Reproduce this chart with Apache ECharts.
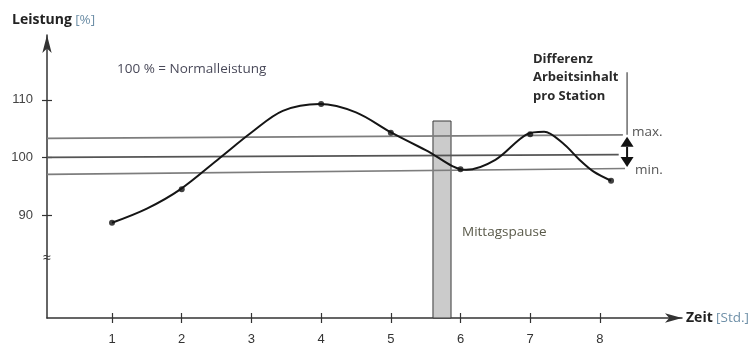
<!DOCTYPE html>
<html><head><meta charset="utf-8">
<script src="https://cdn.jsdelivr.net/npm/echarts@6/dist/echarts.min.js"></script>
<style>html,body{margin:0;padding:0;background:#fff}#c{width:752px;height:347px}</style>
</head><body><div id="c"></div>
<script>
// ---- data ----
const hourTicks = [1, 2, 3, 4, 5, 6, 7, 8];
const yTicks = [90, 100, 110];
const pointHours = [1, 2, 4, 5, 6, 7, 8.16];
const pointValues = [88.75, 94.53, 109.29, 104.33, 97.99, 104.05, 96.02];
const curveHours = [1.00, 1.50, 1.98, 2.55, 3.00, 3.45, 3.98, 4.50, 5.01, 5.50, 6.08, 6.50, 6.95, 7.20, 7.47, 7.71, 7.91, 8.16];
const curveValues = [88.75, 91.20, 94.53, 100.00, 104.36, 108.10, 109.29, 107.85, 104.33, 101.33, 97.90, 99.64, 104.05, 104.50, 102.49, 99.60, 97.58, 96.02];
const maxLineHours = [0.067, 8.33];
const maxLineValues = [103.36, 103.96];
const normLineHours = [0.067, 8.27];
const normLineValues = [100.07, 100.55];
const minLineHours = [0.067, 8.36];
const minLineValues = [97.13, 98.13];
const pauseHours = [5.605, 5.864];
const pauseTop = 106.35;
const diffHour = 8.39;
const diffTop = 114.8;

const xMin = 0.067, xMax = 9.178, yMin = 72.27, yMax = 121.23;
const axisFont = 'Liberation Sans';
const noteFont = 'Open Sans';

function pairs(xs, ys) { return xs.map((x, i) => [x, ys[i]]); }

const chart = echarts.init(document.getElementById('c'), null, {renderer: 'canvas'});
const refLine = {type: 'line', symbol: 'none', silent: true, z: 3,
  lineStyle: {color: '#7d7d7d', width: 1.7}};

chart.setOption({
  animation: false,
  grid: {left: 47, right: 70, top: 35, bottom: 29, containLabel: false, outerBoundsMode: 'none'},
  xAxis: [{
    type: 'value', min: xMin, max: xMax, position: 'bottom',
    axisLine: {show: true, symbol: ['none', 'arrow'], symbolSize: [7, 17], lineStyle: {color: '#333', width: 1.5}},
    axisTick: {show: true, customValues: hourTicks, length: 5, lineStyle: {color: '#333', width: 1.2}},
    axisLabel: {show: true, customValues: hourTicks, margin: 15, color: '#333', fontSize: 13, fontFamily: axisFont},
    splitLine: {show: false}
  }, {
    type: 'value', min: xMin, max: xMax, position: 'bottom',
    axisLine: {show: false},
    axisTick: {show: true, inside: true, customValues: hourTicks, length: 5, lineStyle: {color: '#333', width: 1.2}},
    axisLabel: {show: false}, splitLine: {show: false}
  }],
  yAxis: [{
    type: 'value', min: yMin, max: yMax, position: 'left',
    axisLine: {show: true, symbol: ['none', 'arrow'], symbolSize: [7, 18], lineStyle: {color: '#333', width: 1.5}},
    axisTick: {show: true, customValues: yTicks, length: 5, lineStyle: {color: '#333', width: 1.2}},
    axisLabel: {show: true, customValues: yTicks, margin: 14, color: '#444', fontSize: 13, fontFamily: axisFont},
    splitLine: {show: false}
  }, {
    type: 'value', min: yMin, max: yMax, position: 'left',
    axisLine: {show: false},
    axisTick: {show: true, inside: true, customValues: yTicks, length: 5, lineStyle: {color: '#333', width: 1.2}},
    axisLabel: {show: false}, splitLine: {show: false}
  }],
  series: [
    {
      type: 'custom', silent: true, z: 1,
      data: [[pauseHours[0], pauseHours[1], pauseTop]],
      encode: {x: [0, 1], y: 2},
      renderItem: function (params, api) {
        const p1 = api.coord([api.value(0), api.value(2)]);
        const p2 = api.coord([api.value(1), yMin]);
        return {type: 'rect', shape: {x: p1[0], y: p1[1], width: p2[0] - p1[0], height: p2[1] - p1[1]},
          style: {fill: '#cbcbcb', stroke: '#3a3a3a', lineWidth: 1}};
      }
    },
    Object.assign({data: pairs(maxLineHours, maxLineValues)}, refLine),
    Object.assign({data: pairs(normLineHours, normLineValues)}, refLine, {lineStyle: {color: '#555', width: 1.7}}),
    Object.assign({data: pairs(minLineHours, minLineValues)}, refLine),
    {
      type: 'line', smooth: 0.33, symbol: 'none', silent: true, z: 5,
      data: pairs(curveHours, curveValues),
      lineStyle: {color: '#151515', width: 2}
    },
    {
      type: 'scatter', symbol: 'circle', symbolSize: 6, silent: true, z: 6,
      data: pairs(pointHours, pointValues),
      itemStyle: {color: '#111'}
    }
  ]
});

// ---- annotations positioned from data values ----
const pMaxR = chart.convertToPixel({gridIndex: 0}, [diffHour, maxLineValues[1]]);
const pMinR = chart.convertToPixel({gridIndex: 0}, [diffHour, minLineValues[1]]);
const pTop = chart.convertToPixel({gridIndex: 0}, [diffHour, diffTop]);
const ax = pMaxR[0];
const t1 = pMaxR[1] + 2, t2 = pMinR[1] - 1.5;
const headH = 10, hw = 6.5;

chart.setOption({
  graphic: [
    {type: 'line', silent: true, shape: {x1: ax, y1: pTop[1], x2: ax, y2: pMaxR[1]}, style: {stroke: '#555', lineWidth: 1.3}},
    {type: 'polygon', silent: true, shape: {points: [[ax, t1], [ax - hw, t1 + headH], [ax + hw, t1 + headH]]}, style: {fill: '#111'}},
    {type: 'polygon', silent: true, shape: {points: [[ax, t2], [ax - hw, t2 - headH], [ax + hw, t2 - headH]]}, style: {fill: '#111'}},
    {type: 'line', silent: true, shape: {x1: ax, y1: t1 + headH, x2: ax, y2: t2 - headH}, style: {stroke: '#111', lineWidth: 2}},
    {type: 'text', silent: true, x: 12, y: 20, style: {
      text: '{b|Leistung} {l|[%]}', verticalAlign: 'middle',
      rich: {b: {fontFamily: noteFont, fontWeight: 'bold', fontSize: 14, fill: '#222'},
             l: {fontFamily: noteFont, fontSize: 13.5, fill: '#6f90a8'}}}},
    {type: 'text', silent: true, x: 686, y: 318, style: {
      text: '{b|Zeit} {l|[Std.]}', verticalAlign: 'middle',
      rich: {b: {fontFamily: noteFont, fontWeight: 'bold', fontSize: 14, fill: '#222'},
             l: {fontFamily: noteFont, fontSize: 13.5, fill: '#6f90a8'}}}},
    {type: 'text', silent: true, x: 117, y: 69, style: {text: '100 % = Normalleistung', verticalAlign: 'middle',
      fontFamily: noteFont, fontSize: 13.5, fill: '#4a4a5a'}},
    {type: 'text', silent: true, x: 533, y: 50, style: {text: 'Differenz\nArbeitsinhalt\npro Station', verticalAlign: 'top',
      fontFamily: noteFont, fontWeight: 'bold', fontSize: 13, lineHeight: 18.5, fill: '#2a2a2a'}},
    {type: 'text', silent: true, x: 632, y: 132, style: {text: 'max.', verticalAlign: 'middle',
      fontFamily: noteFont, fontSize: 13.5, fill: '#555'}},
    {type: 'text', silent: true, x: 635, y: 170, style: {text: 'min.', verticalAlign: 'middle',
      fontFamily: noteFont, fontSize: 13.5, fill: '#555'}},
    {type: 'text', silent: true, x: 462, y: 232, style: {text: 'Mittagspause', verticalAlign: 'middle',
      fontFamily: noteFont, fontSize: 13.5, fill: '#5a5a4a'}},
    {type: 'text', silent: true, x: 47, y: 258, style: {text: '≈', align: 'center', verticalAlign: 'middle',
      fontFamily: axisFont, fontSize: 14, fill: '#333'}}
  ]
});
</script>
</body></html>
